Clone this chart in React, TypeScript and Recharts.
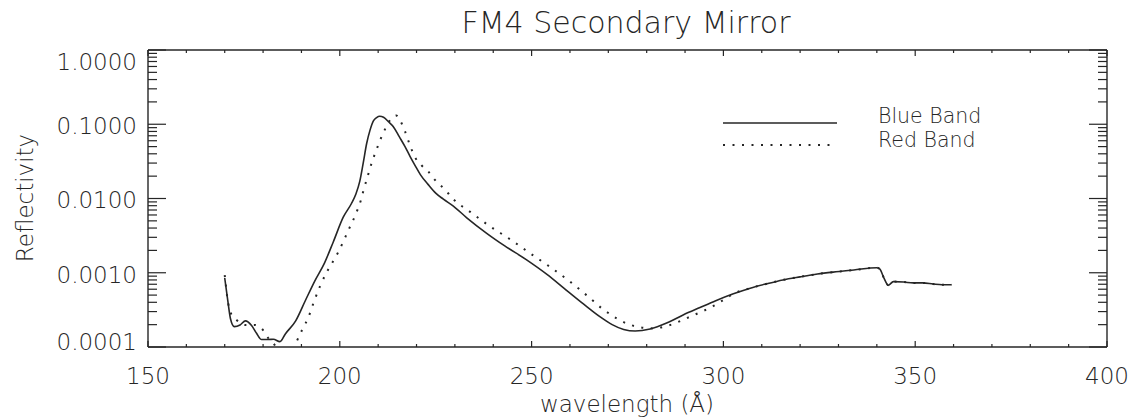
import React from 'react';
import { LineChart, Line, XAxis, YAxis, Legend } from 'recharts';

// Blue band reflectivity curve (wavelength in Å, reflectivity as a fraction)
const blueWavelength = [
  170.0, 170.8, 171.5, 172.5, 174.0, 175.4, 177.0, 178.3, 179.6, 181.4, 182.7, 184.4,
  185.8, 188.5, 191.0, 193.5, 196.0, 198.3, 200.9, 203.0, 204.2, 205.2, 206.1, 207.0,
  207.9, 208.8, 209.6, 210.4, 211.4, 212.7, 214.0, 215.5, 217.0, 218.3, 219.6, 221.0,
  223.0, 225.0, 227.0, 229.6, 233.1, 238.3, 243.0, 248.7, 254.0, 259.1, 263.5, 267.8,
  271.0, 274.0, 277.0, 280.9, 285.2, 289.5, 293.9, 298.0, 302.6, 307.0, 311.3, 315.5,
  320.0, 324.5, 328.6, 334.0, 340.0, 340.8, 341.8, 343.0, 344.3, 347.0, 349.5, 352.0,
  354.7, 357.0, 359.5,
];
const blueReflectivity = [
  8.5e-4, 4.2e-4, 2.4e-4, 1.88e-4, 1.98e-4, 2.25e-4, 1.95e-4, 1.53e-4, 1.26e-4, 1.26e-4, 1.27e-4, 1.18e-4,
  1.5e-4, 2.25e-4, 4.2e-4, 7.8e-4, 1.35e-3, 2.6e-3, 5.6e-3, 8.5e-3, 1.15e-2, 1.7e-2, 3.0e-2, 5.5e-2,
  8.4e-2, 0.112, 0.123, 0.128, 0.124, 0.108, 0.092, 0.068, 0.05, 0.037, 0.028, 0.021,
  0.0155, 0.0118, 0.0098, 0.0079, 0.0055, 0.0034, 0.0023, 1.49e-3, 9.5e-4, 5.8e-4, 3.8e-4, 2.56e-4,
  2.0e-4, 1.72e-4, 1.64e-4, 1.75e-4, 2.1e-4, 2.7e-4, 3.4e-4, 4.2e-4, 5.2e-4, 6.2e-4, 7.1e-4, 8.0e-4,
  8.8e-4, 9.6e-4, 1.02e-3, 1.09e-3, 1.17e-3, 1.12e-3, 8.6e-4, 6.8e-4, 7.6e-4, 7.5e-4, 7.3e-4, 7.3e-4,
  7.05e-4, 6.9e-4, 6.9e-4,
];

// Red band reflectivity curve
const redWavelength = [
  170.0, 170.9, 171.6, 173.1, 175.3, 177.8, 180.0, 181.4, 182.7, 184.0, 186.0, 187.8,
  188.8, 190.3, 191.8, 193.2, 194.8, 196.5, 198.5, 199.6, 202.3, 204.5, 205.5, 206.2,
  207.4, 208.3, 209.6, 210.5, 211.8, 213.0, 214.0, 214.7, 215.9, 217.0, 218.3, 219.6,
  221.3, 223.1, 224.8, 227.4, 229.6, 234.0, 239.2, 244.5, 249.6, 255.0, 260.0, 264.5,
  268.7, 272.2, 275.0, 277.5, 281.7, 286.1, 291.3, 297.4, 300.0, 302.6, 307.0, 311.3,
  315.5, 320.0, 324.5, 328.6, 334.0, 340.0, 340.8, 341.8, 343.0, 344.3, 347.0, 349.5,
  352.0, 354.7, 357.0, 359.5,
];
const redReflectivity = [
  9.3e-4, 3.9e-4, 2.85e-4, 2.31e-4, 1.98e-4, 1.98e-4, 1.69e-4, 1.31e-4, 1.12e-4, 9.0e-5, 7.5e-5, 9.0e-5,
  1.2e-4, 1.75e-4, 2.5e-4, 4.0e-4, 6.5e-4, 1.0e-3, 1.5e-3, 1.9e-3, 3.8e-3, 6.8e-3, 9.5e-3, 1.3e-2,
  2.1e-2, 3.0e-2, 4.6e-2, 6.1e-2, 8.6e-2, 0.112, 0.127, 0.131, 0.108, 0.08, 0.052, 0.036,
  0.028, 0.023, 0.0178, 0.0132, 0.0098, 0.0066, 0.0042, 0.0028, 1.83e-3, 1.18e-3, 7.6e-4, 4.9e-4,
  3.2e-4, 2.43e-4, 2.05e-4, 1.88e-4, 1.78e-4, 1.98e-4, 2.56e-4, 3.57e-4, 4.3e-4, 5.2e-4, 6.2e-4, 7.1e-4,
  8.0e-4, 8.8e-4, 9.6e-4, 1.02e-3, 1.09e-3, 1.17e-3, 1.12e-3, 8.6e-4, 6.8e-4, 7.6e-4, 7.5e-4, 7.3e-4,
  7.3e-4, 7.05e-4, 6.9e-4, 6.9e-4,
];

const seriesNames = ['Blue Band', 'Red Band'];

// Axis ticks: every 10 Å on x, log decades with 2..9 minors on y
const xTicks = [
  150, 160, 170, 180, 190, 200, 210, 220, 230, 240, 250, 260, 270, 280, 290, 300,
  310, 320, 330, 340, 350, 360, 370, 380, 390, 400,
];
const xMajorTicks = [150, 200, 250, 300, 350, 400];
const yMajorTicks = [0.0001, 0.001, 0.01, 0.1, 1];
const yMinorSteps = [1, 2, 3, 4, 5, 6, 7, 8, 9];
const yTicks = [
  ...yMajorTicks.slice(0, 4).flatMap((d) => yMinorSteps.map((m) => m * d)),
  1,
];

const bluePoints = blueWavelength.map((w, i) => ({ w, r: blueReflectivity[i] }));
const redPoints = redWavelength.map((w, i) => ({ w, r: redReflectivity[i] }));

const FONT = '"DejaVu Sans", Verdana, sans-serif';
const FW = 200;
const INK = '#262626';
const FS = 23;

const isDecade = (v: number) => Math.abs(Math.log10(v) - Math.round(Math.log10(v))) < 1e-6;

const BottomTick = (props: any) => {
  const { x, y, payload } = props;
  const v = payload.value;
  const major = xMajorTicks.includes(v);
  return (
    <g>
      <line x1={x} y1={y} x2={x} y2={y - (major ? 6 : 3)} stroke={INK} strokeWidth={1.2} />
      {major && (
        <text x={x} y={y + 29} dy="0.36em" textAnchor="middle" fontSize={FS} fontFamily={FONT} fontWeight={FW} fill={INK}>
          {v}
        </text>
      )}
    </g>
  );
};

const TopTick = (props: any) => {
  const { x, y, payload } = props;
  const major = xMajorTicks.includes(payload.value);
  return <line x1={x} y1={y} x2={x} y2={y + (major ? 6 : 3)} stroke={INK} strokeWidth={1.2} />;
};

const LeftTick = (props: any) => {
  const { x, y, payload } = props;
  const v = payload.value;
  const major = isDecade(v);
  // keep the end labels inside the frame
  const shift = v >= 0.99 ? 12 : v <= 0.00011 ? -5 : 1.5;
  return (
    <g>
      <line x1={x} y1={y} x2={x + (major ? 18 : 9)} y2={y} stroke={INK} strokeWidth={1.2} />
      {major && (
        <text x={x - 11} y={y + shift} dy="0.36em" textAnchor="end" fontSize={FS} fontFamily={FONT} fontWeight={FW} fill={INK}>
          {v.toFixed(4)}
        </text>
      )}
    </g>
  );
};

const RightTick = (props: any) => {
  const { x, y, payload } = props;
  const major = isDecade(payload.value);
  return <line x1={x} y1={y} x2={x - (major ? 18 : 9)} y2={y} stroke={INK} strokeWidth={1.2} />;
};

const LegendContent = (props: any) => {
  const items = props.payload && props.payload.length ? props.payload : [];
  return (
    <svg width={300} height={60} style={{ display: 'block', overflow: 'visible' }}>
      {items.map((item: any, i: number) => (
        <g key={i}>
          <line
            x1={3}
            y1={23 + i * 22}
            x2={117}
            y2={23 + i * 22}
            stroke={INK}
            strokeWidth={i === 0 ? 1.6 : 2}
            strokeDasharray={i === 0 ? undefined : '2 7.5'}
          />
          <text x={158} y={22.5 + i * 24} fontSize={20.5} fontFamily={FONT} fontWeight={FW} fill={INK}>
            {item.value}
          </text>
        </g>
      ))}
    </svg>
  );
};

export default function App() {
  return (
    <div style={{ position: 'absolute', left: 0, top: 0, width: 1131, height: 420, background: '#fff' }}>
      <LineChart width={1131} height={420} margin={{ top: 0, right: 0, bottom: 0, left: 0 }}>
        <XAxis
          xAxisId="bottom"
          dataKey="w"
          type="number"
          domain={[150, 400]}
          allowDataOverflow
          ticks={xTicks}
          interval={0}
          height={73}
          tickSize={0}
          tickMargin={0}
          tickLine={false}
          axisLine={{ stroke: INK, strokeWidth: 1.4 }}
          tick={<BottomTick />}
          label={() => (
            <text x={627} y={412} textAnchor="middle" fontSize={FS} fontFamily={FONT} fontWeight={FW} fill={INK}>
              wavelength (Å)
            </text>
          )}
        />
        <XAxis
          xAxisId="top"
          orientation="top"
          dataKey="w"
          type="number"
          domain={[150, 400]}
          allowDataOverflow
          ticks={xTicks}
          interval={0}
          height={50}
          tickSize={0}
          tickMargin={0}
          tickLine={false}
          axisLine={{ stroke: INK, strokeWidth: 1.4 }}
          tick={<TopTick />}
          label={() => (
            <text x={626} y={33} textAnchor="middle" fontSize={30} fontFamily={FONT} fontWeight={FW} fill={INK}>
              FM4 Secondary Mirror
            </text>
          )}
        />
        <YAxis
          yAxisId="left"
          dataKey="r"
          scale="log"
          type="number"
          domain={[0.0001, 1]}
          allowDataOverflow
          ticks={yTicks}
          interval={0}
          width={148}
          tickSize={0}
          tickMargin={0}
          tickLine={false}
          axisLine={{ stroke: INK, strokeWidth: 1.4 }}
          tick={<LeftTick />}
          label={() => (
            <text
              x={33}
              y={198}
              transform="rotate(-90 33 198)"
              textAnchor="middle"
              fontSize={FS}
              fontFamily={FONT}
              fontWeight={FW}
              fill={INK}
            >
              Reflectivity
            </text>
          )}
        />
        <YAxis
          yAxisId="right"
          orientation="right"
          dataKey="r"
          scale="log"
          type="number"
          domain={[0.0001, 1]}
          allowDataOverflow
          ticks={yTicks}
          interval={0}
          width={24}
          tickSize={0}
          tickMargin={0}
          tickLine={false}
          axisLine={{ stroke: INK, strokeWidth: 1.4 }}
          tick={<RightTick />}
        />
        <Legend
          layout="horizontal"
          align="center"
          verticalAlign="middle"
          wrapperStyle={{ left: 720, top: 100, width: 300, height: 60 }}
          content={<LegendContent />}
        />
        <Line
          xAxisId="bottom"
          yAxisId="left"
          data={bluePoints}
          dataKey="r"
          name={seriesNames[0]}
          type="monotone"
          stroke={INK}
          strokeWidth={1.6}
          dot={false}
          activeDot={false}
          isAnimationActive={false}
        />
        <Line
          xAxisId="top"
          yAxisId="right"
          data={redPoints}
          dataKey="r"
          name={seriesNames[1]}
          type="monotone"
          stroke={INK}
          strokeWidth={2}
          strokeDasharray="2 7.5"
          dot={false}
          activeDot={false}
          isAnimationActive={false}
        />
      </LineChart>
    </div>
  );
}
